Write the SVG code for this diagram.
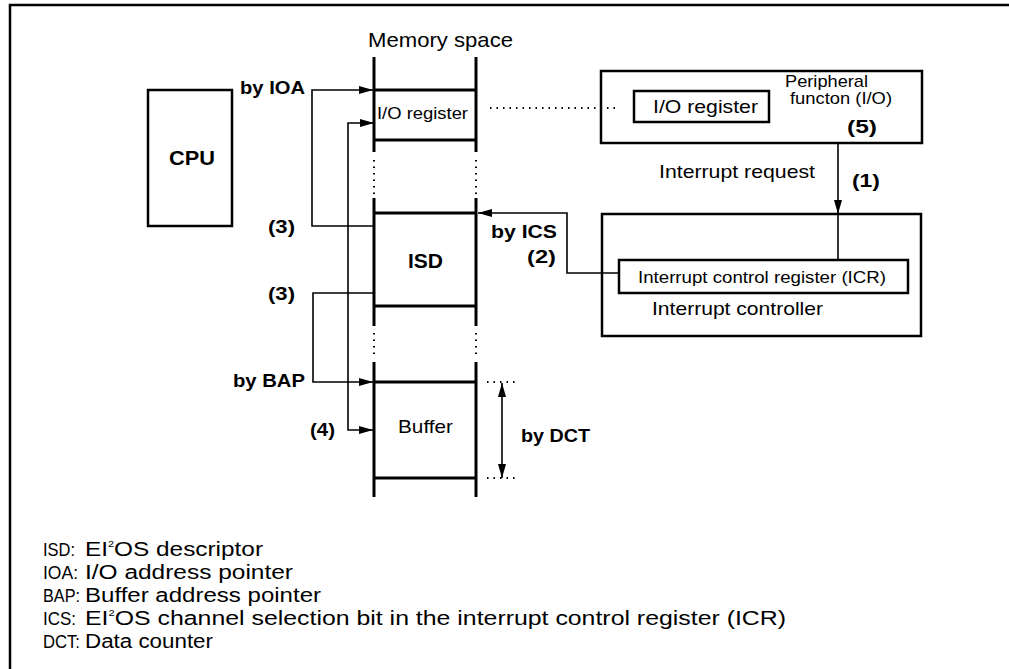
<svg xmlns="http://www.w3.org/2000/svg" width="1009" height="669" viewBox="0 0 1009 669">
<style>
text{font-family:"Liberation Sans",Arial,sans-serif;fill:#000}
.b{font-weight:bold}
.box{fill:none;stroke:#000;stroke-width:2.5}
.col{fill:none;stroke:#000;stroke-width:3}
.dot{fill:none;stroke:#000;stroke-width:2;stroke-dasharray:1.5,5}
.ln{fill:none;stroke:#000;stroke-width:1.6}
.arr{marker-end:url(#ah)}
.leg{font-size:20px}
.lab{font-size:18px}
</style>
<defs>
<marker id="ah" viewBox="0 0 14 8" refX="14" refY="4" markerWidth="14" markerHeight="8" markerUnits="userSpaceOnUse" orient="auto-start-reverse">
<path d="M0,0 L14,4 L0,8 z" fill="#000"/>
</marker>
</defs>
<rect width="1009" height="669" fill="#fff"/>
<path d="M10,669 V5 H1009" fill="none" stroke="#000" stroke-width="2.5"/>

<g id="cpu">
<rect class="box" x="148" y="90" width="84" height="136"/>
<text class="b" x="169" y="165" font-size="20" textLength="46" lengthAdjust="spacingAndGlyphs">CPU</text>
</g>

<g id="memory">
<text x="368" y="47" font-size="21" textLength="145" lengthAdjust="spacingAndGlyphs">Memory space</text>
<path class="col" d="M374,57 V152 M476,57 V152 M374,198 V326 M476,198 V326 M374,362 V497 M476,362 V497"/>
<path class="dot" d="M374,160 V195 M476,160 V195 M374,333 V358 M476,333 V358"/>
</g>
<g id="mem-io-register">
<path class="col" d="M374,90 H476 M374,140 H476"/>
<text x="377" y="119" font-size="17" textLength="91" lengthAdjust="spacingAndGlyphs">I/O register</text>
</g>
<g id="mem-isd">
<path class="col" d="M374,213 H476 M374,306 H476"/>
<text class="b" x="408" y="268" font-size="20" textLength="35" lengthAdjust="spacingAndGlyphs">ISD</text>
</g>
<g id="mem-buffer">
<path class="col" d="M374,382 H476 M374,478 H476"/>
<text x="398" y="433" font-size="19" textLength="55" lengthAdjust="spacingAndGlyphs">Buffer</text>
</g>

<g id="peripheral">
<rect class="box" x="601" y="71" width="321" height="72"/>
<rect class="box" x="634" y="91" width="135" height="31"/>
<text x="653" y="113" font-size="19" textLength="105" lengthAdjust="spacingAndGlyphs">I/O register</text>
<text x="785" y="87" font-size="17" textLength="83" lengthAdjust="spacingAndGlyphs">Peripheral</text>
<text x="790" y="104" font-size="17" textLength="102" lengthAdjust="spacingAndGlyphs">functon (I/O)</text>
<text class="b" x="847" y="133" font-size="19" textLength="30" lengthAdjust="spacingAndGlyphs">(5)</text>
</g>

<g id="interrupt-controller">
<rect class="box" x="602" y="214" width="319" height="122"/>
<rect class="box" x="619" y="260" width="289" height="33"/>
<text x="638" y="283" font-size="16" textLength="248" lengthAdjust="spacingAndGlyphs">Interrupt control register (ICR)</text>
<text x="652" y="315" font-size="19" textLength="171" lengthAdjust="spacingAndGlyphs">Interrupt controller</text>
</g>

<g id="connectors">
<path class="ln arr" d="M374,226 H312 V90 H373"/>
<path class="ln" d="M374,123 H348 V430 H373" marker-start="url(#ah)" marker-end="url(#ah)"/>
<path class="ln arr" d="M374,293 H313 V382 H373"/>
<path class="ln arr" d="M619,273 H567 V213 H478"/>
<path class="ln arr" d="M838,143 V214"/>
<path class="ln" d="M838,214 V260"/>
<path class="dot" stroke-width="1.6" d="M490,108 H616"/>
<path class="ln" d="M502,383 V478" marker-start="url(#ah)" marker-end="url(#ah)"/>
<path class="dot" stroke-width="1.6" d="M487,382 H518 M487,478 H518"/>
<text class="b" x="240" y="94" font-size="19" textLength="65" lengthAdjust="spacingAndGlyphs">by IOA</text>
<text class="b" x="268" y="233" font-size="19" textLength="27" lengthAdjust="spacingAndGlyphs">(3)</text>
<text class="b" x="268" y="300" font-size="19" textLength="27" lengthAdjust="spacingAndGlyphs">(3)</text>
<text class="b" x="233" y="387" font-size="19" textLength="72" lengthAdjust="spacingAndGlyphs">by BAP</text>
<text class="b" x="310" y="436" font-size="19" textLength="25" lengthAdjust="spacingAndGlyphs">(4)</text>
<text class="b" x="521" y="442" font-size="19" textLength="69" lengthAdjust="spacingAndGlyphs">by DCT</text>
<text class="b" x="491" y="238" font-size="19" textLength="66" lengthAdjust="spacingAndGlyphs">by ICS</text>
<text class="b" x="527" y="263" font-size="19" textLength="29" lengthAdjust="spacingAndGlyphs">(2)</text>
<text x="659" y="178" font-size="19" textLength="156" lengthAdjust="spacingAndGlyphs">Interrupt request</text>
<text class="b" x="852" y="187" font-size="19" textLength="28" lengthAdjust="spacingAndGlyphs">(1)</text>
</g>

<g id="legend">
<text class="lab" x="43" y="556" textLength="32" lengthAdjust="spacingAndGlyphs">ISD:</text>
<text class="leg" x="85" y="556" textLength="178" lengthAdjust="spacingAndGlyphs">EI<tspan font-size="9" dy="-9">2</tspan><tspan dy="9">OS descriptor</tspan></text>
<text class="lab" x="43" y="579" textLength="35" lengthAdjust="spacingAndGlyphs">IOA:</text>
<text class="leg" x="85" y="579" textLength="208" lengthAdjust="spacingAndGlyphs">I/O address pointer</text>
<text class="lab" x="43" y="602" textLength="37" lengthAdjust="spacingAndGlyphs">BAP:</text>
<text class="leg" x="85" y="602" textLength="236" lengthAdjust="spacingAndGlyphs">Buffer address pointer</text>
<text class="lab" x="43" y="625" textLength="33" lengthAdjust="spacingAndGlyphs">ICS:</text>
<text class="leg" x="85" y="625" textLength="701" lengthAdjust="spacingAndGlyphs">EI<tspan font-size="9" dy="-9">2</tspan><tspan dy="9">OS channel selection bit in the interrupt control register (ICR)</tspan></text>
<text class="lab" x="43" y="648" textLength="37" lengthAdjust="spacingAndGlyphs">DCT:</text>
<text class="leg" x="85" y="648" textLength="128" lengthAdjust="spacingAndGlyphs">Data counter</text>
</g>
</svg>
